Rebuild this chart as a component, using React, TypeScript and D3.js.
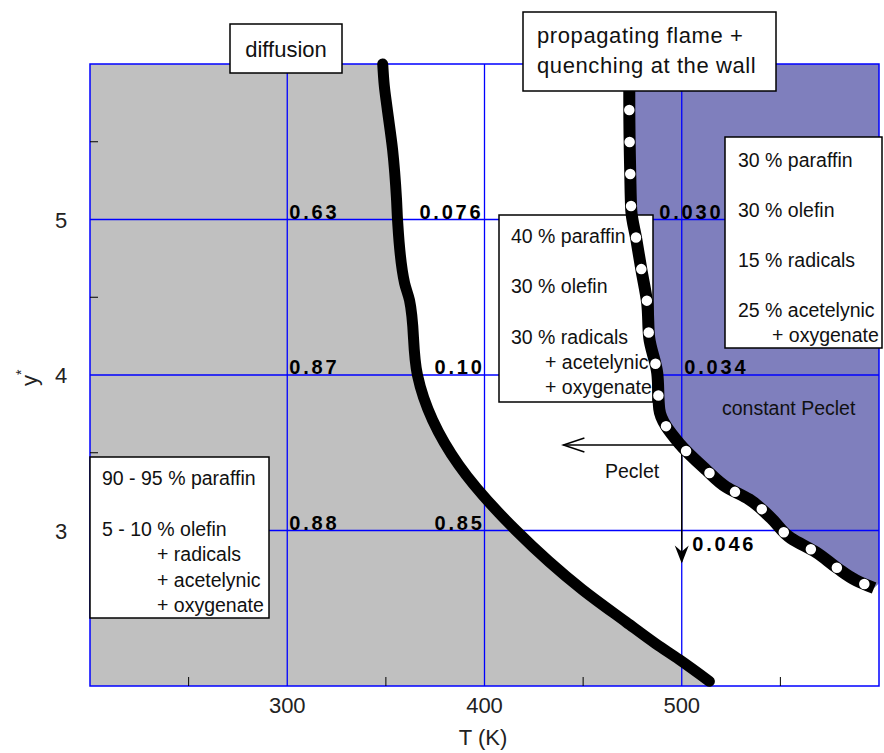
import React from "react";
import * as d3 from "d3";

// ---- data ----
const xTickValues = [300, 400, 500];
const yTickValues = [3, 4, 5];
const xMinorTicks = [250, 350, 450, 550];
const yMinorTicks = [2.5, 3.5, 4.5, 5.5];

// diffusion boundary (thick black curve)
const diffusionT = [348.4, 349.2, 350.6, 353.4, 355.4, 355.9, 359.5, 362, 366, 373.7, 387, 416, 449.6, 471.9, 487, 498.7, 514];
const diffusionY = [6.0, 5.86, 5.72, 5.45, 5.13, 5.0, 4.59, 4.48, 4.0, 3.71, 3.42, 3.0, 2.62, 2.41, 2.27, 2.17, 2.03];

// flame propagation boundary (dotted curve)
const flameT = [473.4, 473.4, 473.9, 474.4, 477, 479.5, 482.5, 483.5, 487.6, 488.6, 498.7, 512.4, 522.5, 534.2, 545.3, 555.4, 568.1, 578.7, 588.4, 597.5];
const flameY = [6.0, 5.77, 5.29, 5.06, 4.87, 4.68, 4.46, 4.24, 4.01, 3.78, 3.56, 3.39, 3.28, 3.2, 3.08, 2.95, 2.86, 2.76, 2.68, 2.63];

// bold numbers on the grid
const numLabels = ["0.63", "0.076", "0.030", "0.87", "0.10", "0.034", "0.88", "0.85", "0.046"];
const numT = [301, 367, 488.6, 301, 374.7, 501.3, 301, 374.7, 505.3];
const numY = [5, 5, 5, 4, 4, 4, 3, 3, 2.86];

// composition boxes: text and whether the line is an indented continuation
const boxMiddle = ["40 % paraffin", "", "30 % olefin", "", "30 % radicals", "+ acetelynic", "+ oxygenate"];
const boxMiddleIndent = [0, 0, 0, 0, 0, 1, 1];
const boxRight = ["30 % paraffin", "", "30 % olefin", "", "15 % radicals", "", "25 % acetelynic", "+ oxygenate"];
const boxRightIndent = [0, 0, 0, 0, 0, 0, 0, 1];
const boxLeft = ["90 - 95 % paraffin", "", "5 - 10 % olefin", "+ radicals", "+ acetelynic", "+ oxygenate"];
const boxLeftIndent = [0, 0, 0, 1, 1, 1];

const W = 884;
const H = 753;

export default function App() {
  const x = d3.scaleLinear().domain([200, 600]).range([90, 879]);
  const y = d3.scaleLinear().domain([2, 6]).range([686, 64]);

  const diff = diffusionT.map((t, i) => [t, diffusionY[i]] as [number, number]);
  const flame = flameT.map((t, i) => [t, flameY[i]] as [number, number]);

  const line = d3
    .line<[number, number]>()
    .x((d) => x(d[0]))
    .y((d) => y(d[1]))
    .curve(d3.curveMonotoneY);

  const grayPoly = [[200, 6] as [number, number], ...diff, [514, 2] as [number, number], [200, 2] as [number, number]];
  const grayPath = "M" + grayPoly.map((d) => `${x(d[0])},${y(d[1])}`).join("L") + "Z";
  const purplePoly = [...flame, [600, 2.66] as [number, number], [600, 6] as [number, number]];
  const purplePath = "M" + purplePoly.map((d) => `${x(d[0])},${y(d[1])}`).join("L") + "Z";

  const font = "'Liberation Sans', Arial, sans-serif";
  const boxFont = 19.5;

  const renderBox = (
    lines: string[],
    indent: number[],
    bx: number,
    by: number,
    bw: number,
    bh: number,
    tx: number,
    tx2: number,
    ty: number,
    lh: number
  ) => (
    <g>
      <rect x={bx} y={by} width={bw} height={bh} fill="#fff" stroke="#000" strokeWidth={1.5} />
      <text fontFamily={font} fontSize={boxFont} fill="#111">
        {lines.map((l, i) => (
          <tspan key={i} x={indent[i] ? tx2 : tx} y={ty + i * lh}>
            {l}
          </tspan>
        ))}
      </text>
    </g>
  );

  const arrowY = 3.55;

  return (
    <svg width={W} height={H} style={{ position: "absolute", left: 0, top: 0, background: "#fff" }}>
      {/* fills */}
      <path d={grayPath} fill="#c0c0c0" />
      <path d={purplePath} fill="#7f7fbd" />

      {/* grid */}
      {xTickValues.map((t) => (
        <line key={"gx" + t} x1={x(t)} x2={x(t)} y1={y(2)} y2={y(6)} stroke="#0000ff" strokeWidth={1.3} />
      ))}
      {yTickValues.map((t) => (
        <line key={"gy" + t} x1={x(200)} x2={x(600)} y1={y(t)} y2={y(t)} stroke="#0000ff" strokeWidth={1.3} />
      ))}
      {/* frame */}
      <rect x={x(200)} y={y(6)} width={x(600) - x(200)} height={y(2) - y(6)} fill="none" stroke="#0000ff" strokeWidth={1.5} />

      {/* minor ticks */}
      {xMinorTicks.map((t) => (
        <line key={"mx" + t} x1={x(t)} x2={x(t)} y1={y(2)} y2={y(2) - 9} stroke="#000" strokeWidth={1} />
      ))}
      {yMinorTicks.map((t) => (
        <line key={"my" + t} x1={x(200)} x2={x(200) + 8} y1={y(t)} y2={y(t)} stroke="#000" strokeWidth={1} />
      ))}

      {/* tick labels */}
      {xTickValues.map((t) => (
        <text key={"tx" + t} x={x(t)} y={713} textAnchor="middle" fontFamily={font} fontSize={22} fill="#222">
          {t}
        </text>
      ))}
      {yTickValues.map((t) => (
        <text key={"ty" + t} x={61} y={y(t) + 8} textAnchor="middle" fontFamily={font} fontSize={22} fill="#222">
          {t}
        </text>
      ))}
      <text x={483} y={745} textAnchor="middle" fontFamily={font} fontSize={22} fill="#222">
        T (K)
      </text>
      <text transform="translate(37,386) rotate(-90)" fontFamily={font} fontSize={22} fill="#222">
        <tspan>y</tspan>
        <tspan dy={-11} fontSize={14}>*</tspan>
      </text>

      {/* middle composition box (under curve) */}
      {renderBox(boxMiddle, boxMiddleIndent, 499, 215, 154, 187, 511, 545, 243, 25.2)}

      {/* bold numbers */}
      {numLabels.map((s, i) => (
        <text key={"n" + i} x={x(numT[i])} y={y(numY[i]) - 1} fontFamily={font} fontSize={20} fontWeight="bold" letterSpacing={2.8} fill="#000">
          {s}
        </text>
      ))}

      {/* arrows */}
      <line x1={x(499)} x2={x(440)} y1={y(arrowY)} y2={y(arrowY)} stroke="#000" strokeWidth={1.5} />
      <path d={`M${x(440) + 21},${y(arrowY) - 7}L${x(440)},${y(arrowY)}L${x(440) + 21},${y(arrowY) + 7}`} fill="none" stroke="#000" strokeWidth={1.5} />
      <line x1={x(500)} x2={x(500)} y1={y(arrowY)} y2={y(2.8)} stroke="#000" strokeWidth={1.5} />
      <path d={`M${x(500)},${y(2.8) + 2}L${x(500) - 7},${y(2.8) - 16}L${x(500)},${y(2.8) - 10}L${x(500) + 7},${y(2.8) - 16}Z`} fill="#000" />
      <text x={605} y={478} fontFamily={font} fontSize={boxFont} fill="#111">
        Peclet
      </text>
      <text x={722} y={415} fontFamily={font} fontSize={boxFont} fill="#111">
        constant Peclet
      </text>

      {/* curves */}
      <path d={line(diff) || ""} fill="none" stroke="#000" strokeWidth={11} strokeLinecap="round" strokeLinejoin="round" />
      <path d={line(flame) || ""} fill="none" stroke="#000" strokeWidth={12} strokeLinejoin="round" />
      <path d={line(flame) || ""} fill="none" stroke="#fff" strokeWidth={10.5} strokeLinecap="round" strokeDasharray="0 32" strokeDashoffset={-14} />

      {/* other boxes */}
      {renderBox(boxRight, boxRightIndent, 725, 137, 157, 211, 738, 772, 167, 25)}
      {renderBox(boxLeft, boxLeftIndent, 90, 457, 179, 161, 102, 157, 485, 25.4)}
      <rect x={230} y={24} width={112} height={49} fill="#fff" stroke="#000" strokeWidth={1.5} />
      <text x={286} y={57} textAnchor="middle" fontFamily={font} fontSize={22} fill="#111">
        diffusion
      </text>
      <rect x={523} y={12} width={253} height={79} fill="#fff" stroke="#000" strokeWidth={1.5} />
      <text fontFamily={font} fontSize={22} letterSpacing={0.6} fill="#111">
        <tspan x={537} y={43}>propagating flame +</tspan>
        <tspan x={537} y={73}>quenching at the wall</tspan>
      </text>
    </svg>
  );
}
